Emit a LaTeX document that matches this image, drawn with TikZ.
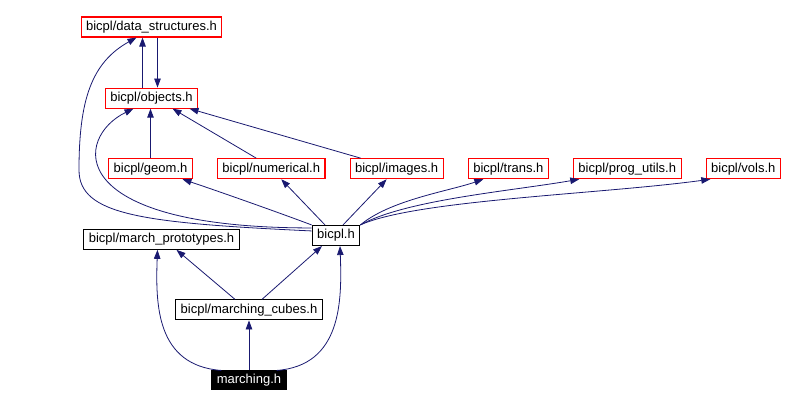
\documentclass[tikz,border=0pt]{standalone}
\usepackage{fontspec}
\setmainfont{Liberation Sans}
\usetikzlibrary{arrows.meta, positioning}
\definecolor{depblue}{HTML}{191970}
\definecolor{hdrred}{HTML}{FF0000}

\begin{document}
\begin{tikzpicture}[
  x=1pt, y=-1pt,
  % Node styles
  hdrnode/.style={
    rectangle, draw=hdrred, line width=1.1pt, fill=white,
    minimum height=20pt, inner xsep=5pt, inner ysep=2pt,
    font=\fontsize{13}{15}\selectfont
  },
  filenode/.style={
    hdrnode, draw=black
  },
  rootnode/.style={
    hdrnode, draw=black, fill=black, text=white, minimum height=18pt
  },
  % Arrow style
  dep/.style={-{Triangle[length=9pt,width=6.5pt,fill=depblue]}, draw=depblue, line width=0.8pt},
  node distance=49.5pt and 24pt
]
\useasboundingbox (0,0) rectangle (785,401);

%% ── Top of the graph ─────────────────────────────────────────
\node[hdrnode]                        (ds)     at (151.5,27) {bicpl/data\_structures.h};
\node[hdrnode, below=of ds, yshift=-0.5pt] (obj) {bicpl/objects.h};

%% ── Row of headers ───────────────────────────────────────────
\node[hdrnode, below=of obj, xshift=-1pt] (geom) {bicpl/geom.h};
\node[hdrnode, right=of geom]         (num)    {bicpl/numerical.h};
\node[hdrnode, right=of num]          (img)    {bicpl/images.h};
\node[hdrnode, right=of img]          (trans)  {bicpl/trans.h};
\node[hdrnode, right=of trans]        (prog)   {bicpl/prog\_utils.h};
\node[hdrnode, right=of prog]         (vols)   {bicpl/vols.h};

%% ── Lower part ───────────────────────────────────────────────
\node[filenode, below=of geom, xshift=11pt] (mproto) {bicpl/march\_prototypes.h};
\node[filenode]                       (bicpl)  at (336,235.5) {bicpl.h};
\node[filenode, below=of mproto, xshift=87.5pt] (mcubes) {bicpl/marching\_cubes.h};
\node[rootnode, below=50pt of mcubes] (marching) {marching.h};

%% ── Arrows: marching.h ───────────────────────────────────────
\draw[dep] (marching) -- (mcubes);
\draw[dep] ([xshift=10pt]marching.north west) .. controls +(-65,-5) and +(-2,55) .. ([xshift=-4pt]mproto.south);
\draw[dep] ([xshift=-10pt]marching.north east) .. controls +(65,-5) and +(2,55) .. ([xshift=4pt]bicpl.south);

%% ── Arrows: marching_cubes.h ─────────────────────────────────
\draw[dep] ([xshift=-14pt]mcubes.north) -- ([xshift=15pt]mproto.south);
\draw[dep] ([xshift=13pt]mcubes.north) -- ([xshift=-14pt]bicpl.south);

%% ── Arrows: bicpl.h → row of headers ─────────────────────────
\draw[dep] (bicpl.north west) .. controls +(-40,-15) and +(30,10) .. ([xshift=32pt]geom.south);
\draw[dep] ([xshift=-11pt]bicpl.north) -- ([xshift=10pt]num.south);
\draw[dep] ([xshift=7pt]bicpl.north) -- ([xshift=-10pt]img.south);
\draw[dep] (bicpl.north east) .. controls +(30,-25) and +(-35,12) .. ([xshift=-25pt]trans.south);
\draw[dep] (bicpl.north east) .. controls +(45,-25) and +(-70,12) .. ([xshift=-48pt]prog.south);
\draw[dep] (bicpl.north east) .. controls +(55,-25) and +(-110,15) .. ([xshift=-33pt]vols.south);

%% ── Arrows: bicpl.h → objects.h, data_structures.h ──────────
\draw[dep] ([yshift=-3pt]bicpl.north west) .. controls +(-252,0) and +(-58,28) .. ([xshift=-18pt]obj.south);
\draw[dep] ([yshift=-6pt]bicpl.north west) .. controls +(-170,-8) and +(0,45) .. (79,170)
                                           .. controls +(0,-70) and +(-45,25) .. ([xshift=-15pt]ds.south);

%% ── Arrows: headers → objects.h ──────────────────────────────
\draw[dep] (geom.north) -- (geom.north |- obj.south);
\draw[dep] ([xshift=-15pt]num.north) -- ([xshift=21pt]obj.south);
\draw[dep] ([xshift=-36pt]img.north) -- ([xshift=38pt]obj.south);

%% ── Arrows: objects.h ↔ data_structures.h ───────────────────
\draw[dep] ([xshift=-9pt]obj.north) -- ([xshift=-9pt]ds.south);
\draw[dep] ([xshift=6pt]ds.south) -- ([xshift=6pt]obj.north);

\end{tikzpicture}
\end{document}
